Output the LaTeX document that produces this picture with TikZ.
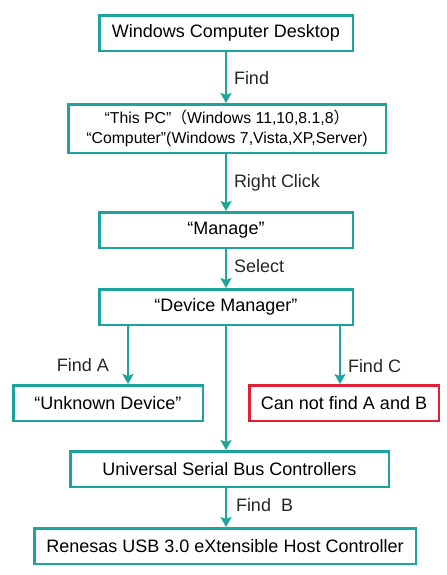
\documentclass[tikz,border=0pt]{standalone}
\usepackage{fontspec}
\setmainfont{Liberation Sans}
\newfontfamily\cjk{Noto Sans CJK SC}
\usetikzlibrary{arrows.meta}
\definecolor{boxteal}{RGB}{27,163,156}
\definecolor{boxred}{RGB}{224,32,58}
\tikzset{
  stepbox/.style={draw=boxteal,line width=2.5bp,inner sep=0pt,align=center,minimum height=35.5bp,font=\fontsize{18bp}{21bp}\selectfont},
  failbox/.style={stepbox,draw=boxred},
  flow/.style={boxteal,line width=2bp,-{Stealth[length=10bp,width=11bp,inset=2bp]}},
  flowlabel/.style={inner sep=1bp,font=\fontsize{18bp}{21bp}\selectfont,text=black!85},
}
\begin{document}
\begin{tikzpicture}[>=latex,line join=miter,]
\useasboundingbox (0bp,0bp) rectangle (447bp,-575bp);
%%
\node (node_0) at (226bp,-33bp) [stepbox,minimum width=253.5bp] {Windows Computer Desktop};
  \node (node_1) at (227bp,-128.5bp) [stepbox,minimum width=317.5bp,minimum height=48.5bp,font=\fontsize{15.8bp}{20bp}\selectfont] {“This PC”{\cjk （}Windows 11,10,8.1,8{\cjk ）}\\“Computer”(Windows 7,Vista,XP,Server)};
  \node (node_2) at (226bp,-230bp) [stepbox,minimum width=253.5bp] {“Manage”};
  \node (node_3) at (226bp,-307bp) [stepbox,minimum width=253.5bp] {“Device Manager”};
  \node (node_4) at (108bp,-403bp) [stepbox,minimum width=189.5bp] {“Unknown Device”};
  \node (node_5) at (344bp,-403bp) [failbox,minimum width=189.5bp] {Can not find A and B};
  \node (node_6) at (229.5bp,-469bp) [stepbox,minimum width=318.5bp] {Universal Serial Bus Controllers};
  \node (node_7) at (225bp,-546bp) [stepbox,minimum width=381.5bp] {Renesas USB 3.0 eXtensible Host Controller};
%
\draw [flow] (node_0.south) -- (node_0.south |- node_1.north) node [flowlabel,right=6bp,pos=0.52] {Find};
  \draw [flow] (node_1.south -| node_0.south) -- (node_2.north) node [flowlabel,right=6bp,pos=0.5] {Right Click};
  \draw [flow] (node_2.south) -- (node_3.north) node [flowlabel,right=6bp,pos=0.45] {Select};
  \draw [flow] ([xshift=-98bp]node_3.south) -- ([xshift=-98bp]node_3.south |- node_4.north) node [flowlabel,left=17bp,pos=0.67] {Find A};
  \draw [flow] ([xshift=114bp]node_3.south) -- ([xshift=114bp]node_3.south |- node_5.north) node [flowlabel,right=6bp,pos=0.69] {Find C};
  \draw [flow] (node_3.south) -- (node_3.south |- node_6.north);
  \draw [flow] (node_6.south -| node_0.south) -- (node_0.south |- node_7.north) node [flowlabel,right=8bp,pos=0.45] {Find\ \ B};
%
\end{tikzpicture}
\end{document}
